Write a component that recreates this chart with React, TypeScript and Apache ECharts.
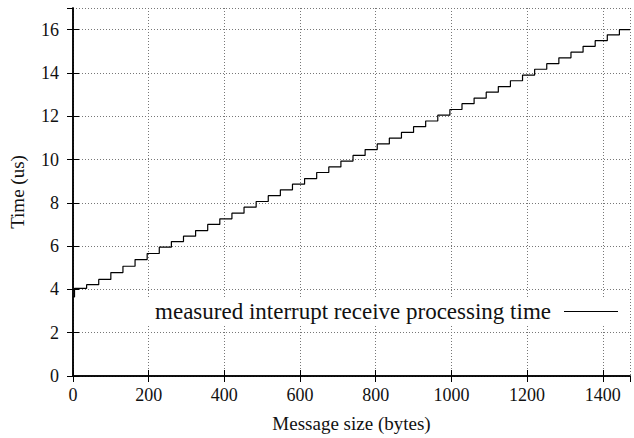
import React, { useEffect, useRef } from "react";
import * as echarts from "echarts";

// Payload size (bytes) at which each processing-time level begins
const stepStart: number[] = [
  0, 4, 36, 68, 100, 132, 164, 196, 228, 260, 292, 324, 356, 388, 420, 452,
  484, 516, 548, 580, 612, 644, 676, 708, 740, 772, 804, 836, 868, 900, 932,
  964, 996, 1028, 1060, 1092, 1124, 1156, 1188, 1220, 1252, 1284, 1316, 1348,
  1380, 1412, 1444, 1472,
];

// Measured receive processing time (us) held from each start point
const timeUs: number[] = [
  3.65, 4.05, 4.22, 4.46, 4.78, 5.07, 5.38, 5.66, 5.95, 6.21, 6.46, 6.72,
  7.0, 7.26, 7.52, 7.8, 8.06, 8.33, 8.6, 8.86, 9.12, 9.4, 9.66, 9.93, 10.19,
  10.46, 10.72, 10.99, 11.25, 11.52, 11.78, 12.05, 12.31, 12.58, 12.84, 13.11,
  13.37, 13.64, 13.9, 14.17, 14.43, 14.7, 14.96, 15.23, 15.49, 15.76, 16.0,
  16.0,
];

const seriesName = "measured interrupt receive processing time";
const xTitle = "Message size (bytes)";
const yTitle = "Time (us)";

const FONT = "Liberation Serif";
const INK = "#111";

export default function App() {
  const ref = useRef<HTMLDivElement>(null);

  useEffect(() => {
    if (!ref.current) return;
    const chart = echarts.init(ref.current, undefined, { renderer: "svg" });

    const axisLine = { show: true, lineStyle: { color: "#000", width: 1.5 } };
    const tick = { show: true, inside: true, length: 6, lineStyle: { color: "#000", width: 1 } };
    const grid = { show: true, lineStyle: { color: "#777", width: 1, type: [1, 2] as number[] } };
    const label = {
      color: INK,
      fontFamily: FONT,
      fontSize: 18,
      formatter: (v: number) => String(v),
    };

    chart.setOption({
      animation: false,
      backgroundColor: "#fff",
      grid: { left: 72, right: 4, top: 8, bottom: 60 },
      legend: {
        data: [{ name: seriesName, icon: "rect" }],
        right: 10,
        top: 297,
        align: "right",
        itemWidth: 54,
        itemHeight: 1.2,
        itemStyle: { color: "#000" },
        backgroundColor: "#fff",
        padding: [3, 6, 3, 10],
        textStyle: { color: INK, fontFamily: FONT, fontSize: 23, padding: [0, 8, 0, 0] },
      },
      xAxis: [
        {
          type: "value",
          min: 0,
          max: 1472,
          interval: 200,
          axisLine,
          axisTick: tick,
          splitLine: grid,
          axisLabel: { ...label, margin: 10, showMaxLabel: false },
          name: xTitle,
          nameLocation: "middle",
          nameGap: 38,
          nameTextStyle: { color: INK, fontFamily: FONT, fontSize: 19 },
        },
        {
          type: "value",
          position: "top",
          min: 0,
          max: 1472,
          interval: 200,
          axisLine,
          axisTick: tick,
          splitLine: { show: false },
          axisLabel: { show: false },
        },
      ],
      yAxis: [
        {
          type: "value",
          min: 0,
          max: 17,
          interval: 2,
          axisLine,
          axisTick: tick,
          splitLine: grid,
          axisLabel: { ...label, margin: 14, showMaxLabel: false },
          name: yTitle,
          nameLocation: "middle",
          nameGap: 46,
          nameRotate: 90,
          nameTextStyle: { color: INK, fontFamily: FONT, fontSize: 19 },
        },
        {
          type: "value",
          position: "right",
          min: 0,
          max: 17,
          interval: 2,
          axisLine,
          axisTick: tick,
          splitLine: { show: false },
          axisLabel: { show: false },
        },
      ],
      series: [
        {
          name: seriesName,
          type: "line",
          step: "end",
          symbol: "none",
          color: "#000",
          lineStyle: { color: "#000", width: 1.2 },
          data: stepStart.map((x, i) => [x, timeUs[i]]),
        },
      ],
    });

    return () => chart.dispose();
  }, []);

  return (
    <div
      ref={ref}
      style={{ position: "fixed", left: 0, top: 0, width: 634, height: 438 }}
    />
  );
}
